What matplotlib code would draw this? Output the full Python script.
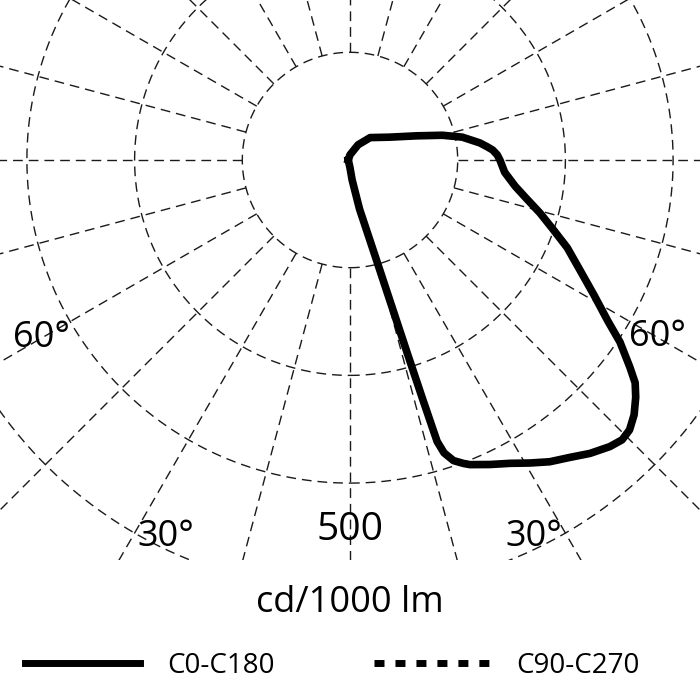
import numpy as np
import matplotlib
matplotlib.use('Agg')
import matplotlib.pyplot as plt
from matplotlib.lines import Line2D
from matplotlib.patches import Rectangle

plt.rcParams['font.family'] = ['Open Sans', 'DejaVu Sans']
plt.rcParams['lines.scale_dashes'] = False

# C0-C180 curve: gamma angle in degrees (0 = straight down, + = C0 side)
gamma = [-90, 0, 6, 11, 14.7, 15.9, 16.5, 16.9, 17.2, 17.8,
         19, 20.5, 21.5, 24.7, 27.8, 30.7, 33.5, 36.4, 39.3, 42.2,
         44.2, 46.0, 48.1, 50.3, 52, 53.5, 56, 58, 61, 64.4,
         68, 71, 74.4, 77.6, 81, 85.5, 90, 92, 94, 95.5,
         97.5, 101.5, 105, 110, 120, 138, 152, 180, 270]
# intensity, cd/1000 lm
c0_c180 = [2, 9, 23, 58, 116, 174, 232, 290, 342, 357,
           369, 376, 380, 389, 398, 409, 420, 429, 440, 449,
           453, 451, 443, 431, 420, 404, 378, 353, 324, 296,
           272, 250, 229, 210, 194, 180, 174, 171, 166, 160,
           152, 133, 111, 82, 53, 35, 20, 6, 2]

rings = [125, 250, 375, 500]
spoke_step = 15
rmax = 625

angle_labels = ['60°', '30°', '30°', '60°']
angle_label_pos = [(-60, 414), (-26, 487), (26, 487), (60, 412)]

fig = plt.figure(figsize=(7, 7), dpi=100)
# centre of the diagram at (350, 160) px, r = 625 -> 538.5 px
R = rmax * 107.7 / 125 / 700
cx, cy = 0.5, 1 - 160 / 700
ax = fig.add_axes([cx - R, cy - R, 2 * R, 2 * R], projection='polar')
ax.set_theta_zero_location('S')
ax.set_theta_direction(1)
ax.set_ylim(0, rmax)
ax.set_xticks([])
ax.set_yticks([])
ax.grid(False)
ax.spines['polar'].set_visible(False)

grid_kw = dict(color='#1a1a1a', lw=1.0, dashes=(7, 4.3))
t = np.linspace(0, 2 * np.pi, 721)
for r in rings:
    ax.plot(t, np.full_like(t, r), **grid_kw)
for a in range(0, 360, spoke_step):
    ax.plot([np.radians(a)] * 2, [rings[0], rmax], **grid_kw)

ax.plot(np.radians(gamma), c0_c180, color='black', lw=5.5, solid_joinstyle='round', zorder=5)

for lab, (a, r) in zip(angle_labels, angle_label_pos):
    ax.text(np.radians(a), r, lab, fontsize=26, ha='center', va='center', clip_on=False)
ax.text(0, 429, str(rings[-1]), fontsize=28, ha='center', va='center', clip_on=False)

# blank band under the diagram
fig.patches.append(Rectangle((0, 0), 1, 140 / 700, transform=fig.transFigure,
                             facecolor='white', edgecolor='none', zorder=1))
fig.text(0.5, 1 - 603 / 700, 'cd/1000 lm', fontsize=26, ha='center', va='center', zorder=3)

handles = [Line2D([], [], color='black', lw=5),
           Line2D([], [], color='black', lw=5, dashes=(7.2, 7.9))]
fig.legend(handles, ['C0-C180', 'C90-C270'], loc='center left',
           bbox_to_anchor=(25 / 700, 1 - 666 / 700), ncol=2, frameon=False,
           fontsize=20, handlelength=4.14, handletextpad=0.97, columnspacing=3.6,
           borderpad=0, borderaxespad=0)

fig.savefig('out.png', dpi=100)
